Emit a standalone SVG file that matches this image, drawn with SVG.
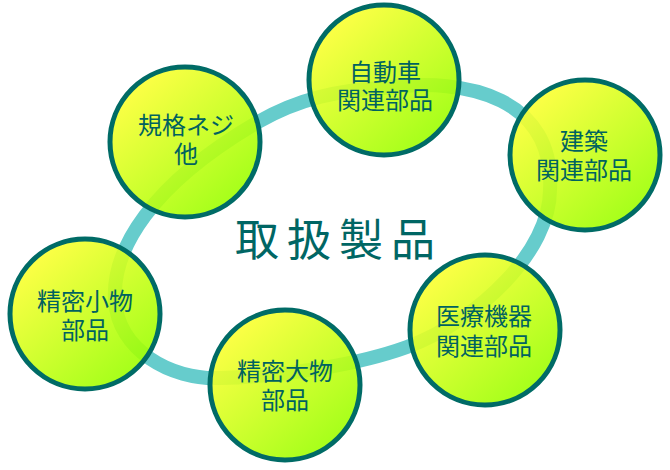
<svg xmlns="http://www.w3.org/2000/svg" width="670" height="470" viewBox="0 0 670 470">
  <defs>
    <linearGradient id="g" x1="0.15" y1="0.1" x2="0.85" y2="0.9">
      <stop offset="0" stop-color="#FFFF33"/>
      <stop offset="1" stop-color="#99FF00"/>
    </linearGradient>
    <style>
      .c { fill: url(#g); fill-opacity: 0.9; stroke: #006B66; stroke-width: 5; }
      .t { font-family: "Noto Sans CJK JP", "Noto Sans CJK SC", sans-serif; font-size: 24px; fill: #006260; text-anchor: middle; }
      .ring { fill: none; stroke: #66CCCC; stroke-width: 14; }
      .title { font-family: "Noto Sans CJK JP", "Noto Sans CJK SC", sans-serif; font-size: 44px; fill: #006664; text-anchor: middle; letter-spacing: 8px; }
    </style>
  </defs>
  <rect width="670" height="470" fill="#FFFFFF"/>
  <g id="connectors">
    <path class="ring" d="M 384 88 C 470 76, 555 100, 550 190 C 550 250, 480 320, 407 347 C 360 364, 290 376, 220 378 C 170 380, 118 350, 115 300 C 112 250, 150 185, 258 122 C 300 98, 340 90, 384 88 Z"/>
  </g>
  <g id="title">
    <text class="title" x="339" y="256">取扱製品</text>
  </g>
  <g id="jidousha">
    <circle class="c" cx="384" cy="80" r="75"/>
    <text class="t" x="385" y="81"><tspan x="385">自動車</tspan><tspan x="385" dy="28">関連部品</tspan></text>
  </g>
  <g id="kikaku">
    <circle class="c" cx="185" cy="142" r="75"/>
    <text class="t" x="186" y="134"><tspan x="186">規格ネジ</tspan><tspan x="186" dy="29">他</tspan></text>
  </g>
  <g id="kenchiku">
    <circle class="c" cx="585" cy="155" r="75"/>
    <text class="t" x="584" y="150"><tspan x="584">建築</tspan><tspan x="584" dy="29">関連部品</tspan></text>
  </g>
  <g id="seimitsu-kobutsu">
    <circle class="c" cx="85" cy="314" r="75"/>
    <text class="t" x="85" y="310"><tspan x="85">精密小物</tspan><tspan x="85" dy="29">部品</tspan></text>
  </g>
  <g id="iryou">
    <circle class="c" cx="485" cy="330" r="75"/>
    <text class="t" x="484" y="325"><tspan x="484">医療機器</tspan><tspan x="484" dy="30">関連部品</tspan></text>
  </g>
  <g id="seimitsu-oomono">
    <circle class="c" cx="285" cy="385" r="75"/>
    <text class="t" x="285" y="380"><tspan x="285">精密大物</tspan><tspan x="285" dy="29">部品</tspan></text>
  </g>
</svg>
